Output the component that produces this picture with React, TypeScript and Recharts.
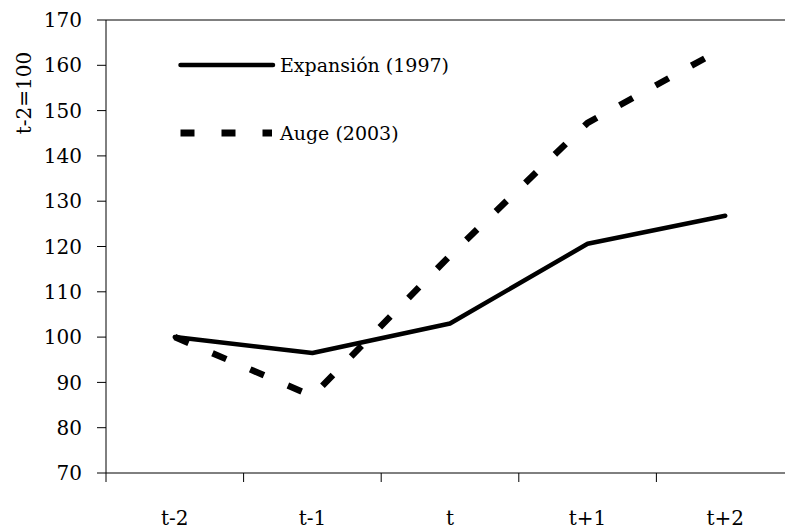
import React from 'react';
import { LineChart, Line, XAxis, YAxis, Legend, ReferenceLine } from 'recharts';

const periods = ['t-2', 't-1', 't', 't+1', 't+2'];
const expansion1997 = [100, 96.5, 103, 120.6, 126.8];
const auge2003 = [100, 87, 118, 147.3, 164];
const yTicks = [70, 80, 90, 100, 110, 120, 130, 140, 150, 160, 170];

const seriesNames = { exp: 'Expansión (1997)', auge: 'Auge (2003)' };
const legendOrder = [seriesNames.exp, seriesNames.auge];

const data = periods.map((p, i) => ({ period: p, exp: expansion1997[i], auge: auge2003[i] }));

const FONT = '"DejaVu Serif", "Liberation Serif", serif';

// category label in the middle of each band, tick marks on the band edges
function PeriodTick(props: any) {
  const { x, y, payload, index } = props;
  const off = payload && typeof payload.offset === 'number' ? payload.offset : 0;
  return (
    <g>
      <line x1={x - off} x2={x - off} y1={y} y2={y + 9} stroke="#000" strokeWidth={1} />
      {index === periods.length - 1 && (
        <line x1={x + off} x2={x + off} y1={y} y2={y + 9} stroke="#000" strokeWidth={1} />
      )}
      <text x={x} y={y + 45} textAnchor="middle" dominantBaseline="central" fontSize={20} fontFamily={FONT} fill="#000">
        {payload.value}
      </text>
    </g>
  );
}

function YTitle(props: any) {
  const vb = props.viewBox || { x: 0, y: 0 };
  const cx = vb.x + 24;
  const cy = vb.y + 73;
  return (
    <text x={cx} y={cy} transform={`rotate(-90 ${cx} ${cy})`} textAnchor="middle" dominantBaseline="central" fontSize={20} fontFamily={FONT} fill="#000">
      t-2=100
    </text>
  );
}

function LegendBox(props: any) {
  const items = [...(props.payload || [])].sort(
    (a: any, b: any) => legendOrder.indexOf(a.value) - legendOrder.indexOf(b.value)
  );
  return (
    <svg width={320} height={120} style={{ display: 'block' }}>
      {items.map((it: any, i: number) => {
        const y = 25 + i * 68;
        const dashed = it.payload && it.payload.strokeDasharray;
        return (
          <g key={it.value}>
            <line
              x1={5.5}
              x2={dashed ? 97 : 98}
              y1={y}
              y2={y}
              stroke={it.color}
              strokeWidth={dashed ? 7 : 4.5}
              strokeDasharray={dashed ? '14 27' : undefined}
              strokeLinecap={dashed ? 'butt' : 'round'}
            />
            <text x={105} y={y} dominantBaseline="central" fontSize={19} fontFamily={FONT} fill="#000">
              {it.value}
            </text>
          </g>
        );
      })}
    </svg>
  );
}

export default function App() {
  return (
    <div style={{ position: 'fixed', left: 0, top: 0, width: 785, height: 530, overflow: 'hidden', background: '#fff' }}>
      <LineChart width={830} height={530} data={data} margin={{ top: 20, right: 36, bottom: 0, left: 0 }}>
        <XAxis
          dataKey="period"
          scale="band"
          height={57}
          axisLine={{ stroke: '#000', strokeWidth: 1 }}
          tickLine={false}
          tickSize={0}
          tickMargin={0}
          interval={0}
          tick={<PeriodTick />}
        />
        <YAxis
          width={106}
          domain={[70, 170]}
          ticks={yTicks}
          interval={0}
          axisLine={{ stroke: '#000', strokeWidth: 1 }}
          tickLine={{ stroke: '#000', strokeWidth: 1 }}
          tickSize={9}
          tickMargin={15}
          tick={{ fontSize: 20, fontFamily: FONT, fill: '#000' }}
          label={<YTitle />}
        />
        <ReferenceLine y={170} stroke="#000" strokeWidth={1} ifOverflow="extendDomain" />
        <Legend
          layout="vertical"
          align="center"
          verticalAlign="middle"
          wrapperStyle={{ left: 175, top: 40, width: 320 }}
          content={<LegendBox />}
        />
        <Line
          type="linear"
          dataKey="exp"
          name={seriesNames.exp}
          stroke="#000"
          strokeWidth={4.5}
          strokeLinecap="round"
          strokeLinejoin="round"
          dot={false}
          activeDot={false}
          isAnimationActive={false}
        />
        <Line
          type="linear"
          dataKey="auge"
          name={seriesNames.auge}
          stroke="#000"
          strokeWidth={6.5}
          strokeDasharray="15 26"
          dot={false}
          activeDot={false}
          isAnimationActive={false}
        />
      </LineChart>
    </div>
  );
}
